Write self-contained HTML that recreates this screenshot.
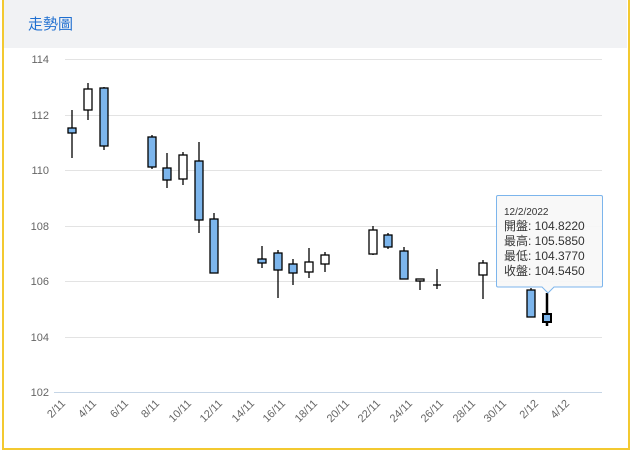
<!DOCTYPE html>
<html><head><meta charset="utf-8"><style>
body{margin:0;width:631px;height:451px;background:#fff;overflow:hidden;position:relative;font-family:"Liberation Sans","Noto Sans CJK TC",sans-serif}
.frame{position:absolute;left:2px;top:-2px;width:624px;height:448px;border:2px solid #f3c930}
.hdr{position:absolute;left:4px;top:0;width:623px;height:48px;background:#f1f2f4}
.hdr span{position:absolute;left:24px;top:13px;font-size:15px;color:#1f6fd0}
</style></head><body>
<div class="hdr"><span>走勢圖</span></div>
<div class="frame"></div>
<svg width="631" height="451" style="position:absolute;left:0;top:0" font-family="Liberation Sans, sans-serif">
<g stroke="#e3e3e3" stroke-width="1">
<line x1="65" x2="602" y1="59.5" y2="59.5"/><line x1="65" x2="602" y1="115.5" y2="115.5"/>
<line x1="65" x2="602" y1="170.5" y2="170.5"/><line x1="65" x2="602" y1="226.5" y2="226.5"/>
<line x1="65" x2="602" y1="281.5" y2="281.5"/><line x1="65" x2="602" y1="337.5" y2="337.5"/>
</g>
<line x1="54" x2="602" y1="392.5" y2="392.5" stroke="#c5d5e6"/>
<g font-size="11" fill="#666" text-anchor="end">
<text x="49" y="63">114</text><text x="49" y="119">112</text><text x="49" y="174">110</text>
<text x="49" y="230">108</text><text x="49" y="285">106</text><text x="49" y="341">104</text><text x="49" y="396">102</text>
</g>
<g font-size="11" fill="#666" text-anchor="end">
<text transform="translate(66,404) rotate(-45)">2/11</text>
<text transform="translate(97,404) rotate(-45)">4/11</text>
<text transform="translate(129,404) rotate(-45)">6/11</text>
<text transform="translate(160,404) rotate(-45)">8/11</text>
<text transform="translate(192,404) rotate(-45)">10/11</text>
<text transform="translate(223,404) rotate(-45)">12/11</text>
<text transform="translate(255,404) rotate(-45)">14/11</text>
<text transform="translate(286,404) rotate(-45)">16/11</text>
<text transform="translate(318,404) rotate(-45)">18/11</text>
<text transform="translate(350,404) rotate(-45)">20/11</text>
<text transform="translate(381,404) rotate(-45)">22/11</text>
<text transform="translate(413,404) rotate(-45)">24/11</text>
<text transform="translate(444,404) rotate(-45)">26/11</text>
<text transform="translate(476,404) rotate(-45)">28/11</text>
<text transform="translate(507,404) rotate(-45)">30/11</text>
<text transform="translate(539,404) rotate(-45)">2/12</text>
<text transform="translate(570,404) rotate(-45)">4/12</text>
</g>
<g stroke="#000" stroke-width="1.3">
<line x1="72" x2="72" y1="110" y2="158"/><rect x="68" y="128" width="8" height="5" fill="#7cb5ec"/>
<line x1="88" x2="88" y1="83" y2="120"/><rect x="84" y="89" width="8" height="21" fill="#fff"/>
<line x1="104" x2="104" y1="87" y2="150"/><rect x="100" y="88" width="8" height="58" fill="#7cb5ec"/>
<line x1="152" x2="152" y1="135" y2="169"/><rect x="148" y="137" width="8" height="30" fill="#7cb5ec"/>
<line x1="167" x2="167" y1="153" y2="188"/><rect x="163" y="168" width="8" height="12" fill="#7cb5ec"/>
<line x1="183" x2="183" y1="152" y2="185"/><rect x="179" y="155" width="8" height="24" fill="#fff"/>
<line x1="199" x2="199" y1="142" y2="233"/><rect x="195" y="161" width="8" height="59" fill="#7cb5ec"/>
<line x1="214" x2="214" y1="213" y2="273"/><rect x="210" y="219" width="8" height="54" fill="#7cb5ec"/>
<line x1="262" x2="262" y1="246" y2="268"/><rect x="258" y="259" width="8" height="4" fill="#7cb5ec"/>
<line x1="278" x2="278" y1="250" y2="298"/><rect x="274" y="253" width="8" height="17" fill="#7cb5ec"/>
<line x1="293" x2="293" y1="259" y2="285"/><rect x="289" y="264" width="8" height="9" fill="#7cb5ec"/>
<line x1="309" x2="309" y1="248" y2="278"/><rect x="305" y="262" width="8" height="10" fill="#fff"/>
<line x1="325" x2="325" y1="252" y2="272"/><rect x="321" y="255" width="8" height="9" fill="#fff"/>
<line x1="373" x2="373" y1="226" y2="255"/><rect x="369" y="230" width="8" height="24" fill="#fff"/>
<line x1="388" x2="388" y1="233" y2="249"/><rect x="384" y="235" width="8" height="12" fill="#7cb5ec"/>
<line x1="404" x2="404" y1="247" y2="279"/><rect x="400" y="251" width="8" height="28" fill="#7cb5ec"/>
<line x1="420" x2="420" y1="279" y2="290"/><rect x="416" y="279" width="8" height="2" fill="#fff"/>
<line x1="437" x2="437" y1="269" y2="289"/><line x1="433" x2="441" y1="285" y2="285"/>
<line x1="483" x2="483" y1="260" y2="299"/><rect x="479" y="263" width="8" height="12" fill="#fff"/>
<line x1="531" x2="531" y1="288" y2="317"/><rect x="527" y="290" width="8" height="27" fill="#7cb5ec"/>
<line x1="547" x2="547" y1="293" y2="326" stroke-width="2.5"/><rect x="543" y="314" width="8" height="8" fill="#7cb5ec" stroke-width="2"/>
</g>
<path d="M498,195.5 H601 Q602.5,195.5 602.5,197 V285.5 Q602.5,287 601,287 H554 L548,293 L542,287 H498 Q496.5,287 496.5,285.5 V197 Q496.5,195.5 498,195.5Z" fill="#f7f7f7" fill-opacity="0.9" stroke="#7cb5ec" stroke-width="1"/>
<g font-size="11" fill="#333" font-family="Liberation Sans, Noto Sans CJK TC, sans-serif">
<text x="504" y="215" font-size="10">12/2/2022</text>
<text x="504" y="230" font-size="12">開盤: 104.8220</text>
<text x="504" y="245" font-size="12">最高: 105.5850</text>
<text x="504" y="260" font-size="12">最低: 104.3770</text>
<text x="504" y="275" font-size="12">收盤: 104.5450</text>
</g>
</svg>
</body></html>
